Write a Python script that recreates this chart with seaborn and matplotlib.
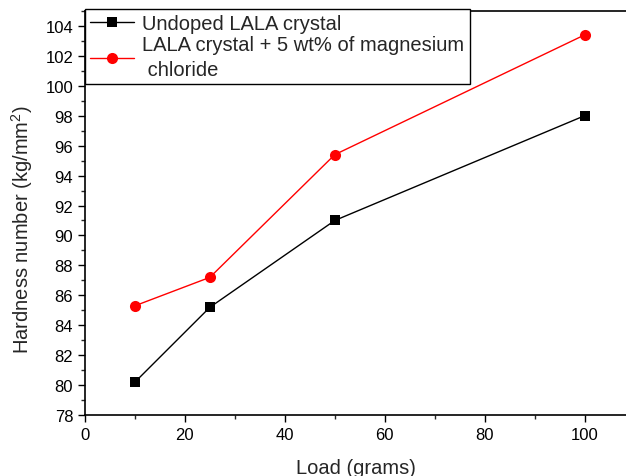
import matplotlib
matplotlib.use("Agg")
import matplotlib.pyplot as plt
import seaborn as sns
import pandas as pd
from matplotlib.ticker import MultipleLocator

load = [10, 25, 50, 100]
undoped = [80.2, 85.2, 91.0, 98.0]
doped = [85.3, 87.2, 95.4, 103.4]
labels = ["Undoped LALA crystal", "LALA crystal + 5 wt% of magnesium\n chloride"]

df = pd.DataFrame({
    "Load": load * 2,
    "Hardness": undoped + doped,
    "Series": [labels[0]] * 4 + [labels[1]] * 4,
})

sns.set_style("ticks")
plt.rcParams['font.family'] = ['Liberation Sans', 'DejaVu Sans']
plt.rcParams['mathtext.fontset'] = 'custom'
plt.rcParams['mathtext.rm'] = 'Liberation Sans'

fig = plt.figure(figsize=(6.26, 4.77), dpi=100)
ax = fig.add_axes([85/626, 1 - 416/477, 1 - 85/626, (416 - 12)/477])

sns.lineplot(data=df, x="Load", y="Hardness", hue="Series", style="Series",
             palette=["black", "#ff0000"], markers=["s", "o"], dashes=False,
             markersize=7, markeredgewidth=0, linewidth=1, ax=ax)
ax.lines[1].set_markersize(8)

ax.set_xlim(0, 108.3)
ax.set_ylim(78, 105)
ax.xaxis.set_major_locator(MultipleLocator(20))
ax.xaxis.set_minor_locator(MultipleLocator(10))
ax.yaxis.set_major_locator(MultipleLocator(2))
ax.yaxis.set_minor_locator(MultipleLocator(1))
ax.tick_params(axis="both", which="major", direction="out", length=5, width=1,
               labelsize=12, colors="black")
ax.tick_params(axis="both", which="minor", direction="out", length=3, width=1)
for s in ["left", "bottom", "top"]:
    ax.spines[s].set_linewidth(1.2)
    ax.spines[s].set_color("black")
ax.spines["right"].set_visible(False)

ax.set_xlabel("Load (grams)", fontsize=14.5, labelpad=12)
ax.set_ylabel("Hardness number (kg/mm$^2$)", fontsize=14.5)
ax.yaxis.set_label_coords(-0.093, 0.46)

leg = ax.legend(loc="upper left", bbox_to_anchor=(0, 1.005), fontsize=14.5,
                frameon=True, fancybox=False, edgecolor="black", framealpha=1,
                borderaxespad=0, handlelength=2.2, labelspacing=0.12,
                borderpad=0.25, handletextpad=0.4)
for t in leg.get_texts():
    t.set_linespacing(1.35)
leg.legend_handles[1].set_markersize(8)
leg.get_frame().set_linewidth(1)
leg.set_zorder(5)

fig.savefig("out.png", dpi=100)
